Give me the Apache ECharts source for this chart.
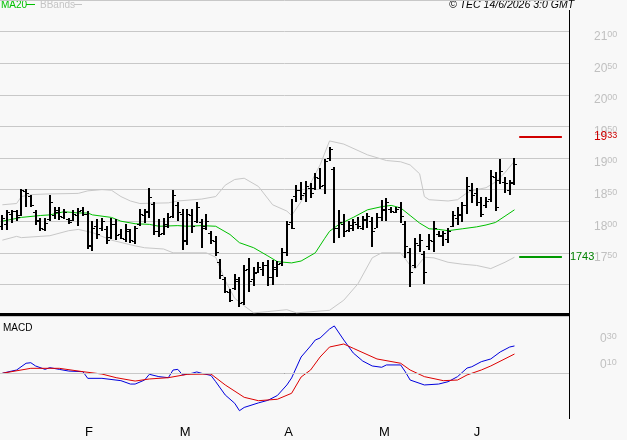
<!DOCTYPE html>
<html>
<head>
<meta charset="utf-8">
<script src="https://cdn.jsdelivr.net/npm/echarts@6/dist/echarts.min.js"></script>
<style>
html, body { margin: 0; padding: 0; background: #f8f8f8; }
#chart { width: 627px; height: 440px; }
</style>
</head>
<body>
<div id="chart"></div>
<script>
// trading days on screen, 2026
var janDays = [8, 9, 12, 13, 14, 15, 16, 19, 20, 21, 22, 23, 26, 27, 28, 29, 30];
var febDays = [2, 3, 4, 5, 6, 9, 10, 11, 12, 13, 16, 17, 18, 19, 20, 23, 24, 25, 26, 27];
var marDays = [2, 3, 4, 5, 6, 9, 10, 11, 12, 13, 16, 17, 18, 19, 20, 23, 24, 25, 26, 27, 30, 31];
var aprDays = [1, 2, 7, 8, 9, 10, 13, 14, 15, 16, 17, 20, 21, 22, 23, 24, 27, 28, 29, 30];
var mayDays = [4, 5, 6, 7, 8, 11, 12, 13, 14, 15, 18, 19, 20, 21, 22, 25, 26, 27, 28, 29];
var junDays = [1, 2, 3, 4, 5, 8, 9, 10, 11, 12];
var monthLetters = ['F', 'M', 'A', 'M', 'J'];
var emptySlots = 11; // free space right of last bar

var opens = [1792, 1796, 1812, 1816, 1810, 1848, 1840, 1815, 1800, 1788,
  1803, 1810, 1815, 1806, 1803, 1802, 1810, 1818, 1812, 1760,
  1793, 1790, 1788, 1775, 1795, 1780, 1772, 1785, 1768, 1796,
  1810, 1815, 1828, 1785, 1782, 1795, 1808, 1826, 1812, 1768,
  1810, 1800, 1798, 1792, 1782, 1768, 1735, 1708, 1688, 1695,
  1705, 1672, 1725, 1708, 1720, 1725, 1730, 1712, 1725, 1734,
  1752, 1798, 1840, 1850, 1845, 1852, 1852, 1868, 1858, 1900,
  1882, 1790, 1795, 1786, 1790, 1796, 1790, 1802, 1800, 1790,
  1806, 1818, 1820, 1815, 1822, 1795, 1752, 1730, 1762, 1748,
  1760, 1768, 1780, 1776, 1772, 1792, 1805, 1810, 1825, 1850,
  1845, 1830, 1825, 1835, 1870, 1865, 1862, 1850, 1862];
var highs = [1810, 1818, 1818, 1818, 1851, 1851, 1842, 1818, 1805, 1805,
  1842, 1822, 1823, 1819, 1805, 1818, 1821, 1823, 1816, 1800,
  1803, 1805, 1792, 1805, 1803, 1787, 1795, 1787, 1792, 1820,
  1819, 1853, 1831, 1803, 1805, 1813, 1849, 1830, 1819, 1819,
  1819, 1831, 1803, 1812, 1784, 1777, 1740, 1711, 1693, 1716,
  1711, 1731, 1742, 1727, 1735, 1736, 1739, 1739, 1737, 1758,
  1800, 1835, 1858, 1862, 1864, 1861, 1877, 1884, 1899, 1918,
  1886, 1818, 1811, 1800, 1803, 1806, 1809, 1813, 1806, 1813,
  1834, 1836, 1823, 1823, 1831, 1800, 1758, 1773, 1779, 1753,
  1779, 1800, 1784, 1784, 1790, 1816, 1823, 1831, 1870, 1860,
  1852, 1839, 1839, 1881, 1878, 1899, 1870, 1865, 1900];
var lows = [1787, 1787, 1797, 1800, 1808, 1823, 1823, 1795, 1785, 1784,
  1801, 1803, 1803, 1803, 1795, 1800, 1792, 1808, 1756, 1753,
  1771, 1784, 1764, 1771, 1769, 1771, 1766, 1765, 1764, 1793,
  1797, 1806, 1778, 1774, 1778, 1789, 1805, 1800, 1754, 1762,
  1781, 1797, 1757, 1786, 1764, 1745, 1709, 1686, 1672, 1691,
  1664, 1668, 1688, 1697, 1717, 1714, 1698, 1700, 1711, 1730,
  1745, 1787, 1831, 1834, 1831, 1837, 1850, 1850, 1844, 1896,
  1766, 1774, 1774, 1782, 1784, 1787, 1787, 1790, 1759, 1790,
  1800, 1800, 1813, 1813, 1797, 1741, 1696, 1725, 1751, 1701,
  1753, 1751, 1774, 1761, 1766, 1790, 1795, 1800, 1811, 1829,
  1823, 1808, 1821, 1831, 1816, 1860, 1844, 1842, 1857];
var closes = [1805, 1814, 1816, 1806, 1849, 1845, 1826, 1802, 1790, 1797,
  1830, 1818, 1808, 1815, 1798, 1812, 1816, 1812, 1762, 1790,
  1780, 1800, 1770, 1795, 1778, 1774, 1788, 1770, 1790, 1812,
  1816, 1838, 1785, 1780, 1793, 1806, 1842, 1815, 1770, 1812,
  1792, 1822, 1790, 1800, 1770, 1752, 1715, 1690, 1676, 1708,
  1670, 1722, 1705, 1718, 1728, 1730, 1712, 1728, 1732, 1752,
  1795, 1790, 1850, 1842, 1855, 1845, 1870, 1856, 1895, 1914,
  1790, 1798, 1785, 1794, 1798, 1792, 1804, 1808, 1784, 1806,
  1820, 1830, 1816, 1820, 1808, 1760, 1720, 1765, 1770, 1720,
  1770, 1790, 1778, 1782, 1785, 1810, 1812, 1825, 1855, 1842,
  1830, 1812, 1832, 1872, 1822, 1880, 1860, 1860, 1890];

// [bar index, value]
var ma20 = [[0, 1800], [4, 1806], [8, 1809], [10, 1810], [13, 1815], [16, 1813], [18, 1813],
  [19, 1810], [23, 1806], [25, 1800], [28, 1796], [31, 1795], [33, 1792], [37, 1793],
  [39, 1792], [42, 1793], [45, 1792], [48, 1779], [50, 1766], [53, 1758], [56, 1745],
  [58, 1736], [61, 1734], [63, 1737], [66, 1750], [68, 1773], [69, 1784], [71, 1795],
  [74, 1806], [77, 1818], [80, 1823], [82, 1825], [84, 1821], [86, 1809], [88, 1797],
  [90, 1788], [92, 1787], [94, 1785], [97, 1788], [100, 1791], [102, 1794], [104, 1798],
  [106, 1808], [108, 1818]];
var bbUpper = [[0, 1826], [3, 1828], [4, 1839], [6, 1842], [9, 1843], [16, 1844], [18, 1848],
  [21, 1850], [23, 1849], [25, 1839], [27, 1832], [29, 1828], [35, 1829], [37, 1832],
  [42, 1835], [45, 1839], [47, 1857], [49, 1866], [51, 1868], [54, 1855], [57, 1826],
  [60, 1816], [61, 1809], [63, 1831], [65, 1860], [67, 1889], [69, 1927], [72, 1922],
  [77, 1905], [81, 1896], [84, 1894], [86, 1889], [88, 1875], [89, 1839], [90, 1834],
  [94, 1832], [96, 1834], [98, 1845], [100, 1850], [102, 1853], [104, 1862], [106, 1877],
  [108, 1895]];
var bbLower = [[0, 1770], [3, 1776], [4, 1774], [10, 1777], [14, 1785], [16, 1787], [19, 1782],
  [23, 1770], [28, 1761], [30, 1758], [34, 1756], [36, 1750], [43, 1750], [45, 1743],
  [47, 1706], [49, 1678], [51, 1666], [53, 1655], [56, 1657], [60, 1660], [62, 1655],
  [69, 1659], [72, 1675], [75, 1701], [78, 1742], [80, 1750], [84, 1750], [85, 1740],
  [86, 1730], [87, 1724], [89, 1743], [91, 1742], [94, 1735], [97, 1732], [100, 1730],
  [103, 1725], [106, 1735], [108, 1743]];
var macdLine = [[0, -0.2], [2, 1.5], [3, 2.3], [5, 7.5], [6, 7.9], [7, 5.4], [9, 2.8], [10, 4.1],
  [12, 2.8], [14, 1.5], [17, 1.0], [18, -4.1], [21, -4.1], [25, -5.9], [27, -8.5], [28, -8.5],
  [30, -5.4], [31, -1.0], [33, -2.8], [35, -3.6], [36, 2.3], [37, 2.8], [38, -1.5], [40, -0.2],
  [41, 0.8], [42, -0.2], [44, -1.9], [45, -6.7], [47, -16.9], [49, -23.3], [50, -29],
  [51, -26.5], [54, -23], [56, -21], [58, -17.3], [60, -9.2], [61, -3.8], [63, 12.3],
  [65, 20.8], [66, 25.4], [67, 26.9], [69, 33.8], [70, 36.2], [72, 25.4], [74, 15.4],
  [76, 9.2], [78, 5.4], [80, 4.4], [81, 6.2], [84, 6.2], [85, 0.8], [86, -5.4], [89, -9.2],
  [92, -8.5], [94, -6.7], [96, -2.8], [98, 3.8], [99, 4.8], [101, 8.7], [103, 10.8],
  [105, 16.2], [107, 20], [108, 20.8]];
var signalLine = [[0, -0.2], [6, 3.6], [12, 3.6], [17, 1.0], [21, -0.8], [24, -3.6], [28, -6.2],
  [31, -4.6], [35, -3.6], [39, -1.0], [44, -0.8], [47, -9.2], [51, -18.7], [54, -21.3],
  [58, -20.2], [61, -15.6], [63, -3.1], [65, 2.3], [67, 12.3], [69, 20], [72, 22.3], [74, 19],
  [79, 10.8], [84, 7.5], [86, 2.3], [89, -2.8], [93, -5.9], [96, -5.4], [98, -1.5], [101, 2.3],
  [103, 5.4], [108, 14.6]];

var resistance = 1933;
var support = 1743;
var levelFrom = 109, levelTo = 118; // category span of the two level marks
var priceTicks = [1750, 1800, 1850, 1900, 1950, 2000, 2050, 2100];
var macdTicks = [10, 30];

// categories
var dates = [];
var monthStart = [];
[janDays, febDays, marDays, aprDays, mayDays, junDays].forEach(function (days, m) {
  if (m > 0) monthStart.push(dates.length);
  days.forEach(function (d) {
    dates.push('2026-' + ('0' + (m + 1)).slice(-2) + '-' + ('0' + d).slice(-2));
  });
});
for (var k = 0; k < emptySlots; k++) dates.push('pad' + k);

var ohlc = opens.map(function (o, i) { return [i, o, closes[i], lows[i], highs[i]]; });

function splitLabel(str, big, small) {
  return '{' + big + '|' + str.slice(0, str.length - 2) + '}{' + small + '|' + str.slice(-2) + '}';
}

var richGray = {
  a: { fontFamily: 'Liberation Sans', fontSize: 12, color: '#c0c0c0', lineHeight: 13 },
  b: { fontFamily: 'Liberation Sans', fontSize: 9, color: '#c0c0c0', verticalAlign: 'top', lineHeight: 13 }
};

function renderBar(params, api) {
  var i = api.value(0);
  var hi = api.coord([i, api.value(4)]);
  var lo = api.coord([i, api.value(3)]);
  var op = api.coord([i, api.value(1)]);
  var cl = api.coord([i, api.value(2)]);
  var x = Math.round(hi[0]);
  return {
    type: 'group',
    children: [
      { type: 'rect', shape: { x: x - 1, y: Math.round(hi[1]), width: 2, height: Math.max(2, Math.round(lo[1] - hi[1])) }, style: { fill: '#000' } },
      { type: 'rect', shape: { x: x - 3, y: Math.round(op[1]), width: 2, height: 1 }, style: { fill: '#000' } },
      { type: 'rect', shape: { x: x + 1, y: Math.round(cl[1]), width: 2, height: 1 }, style: { fill: '#000' } }
    ]
  };
}

var chart = echarts.init(document.getElementById('chart'));
var option = {
  backgroundColor: '#f8f8f8',
  animation: false,
  grid: [
    { left: 0, top: -4, width: 569, height: 320 },
    { left: 0, top: 321, width: 569, height: 104 }
  ],
  xAxis: [
    { type: 'category', gridIndex: 0, data: dates, boundaryGap: true, show: false },
    {
      type: 'category', gridIndex: 1, data: dates, boundaryGap: true, offset: -6,
      axisLine: { lineStyle: { color: '#000', width: 1 } },
      axisTick: {
        alignWithLabel: true, length: 17, lineStyle: { color: '#000' },
        interval: function (idx) { return monthStart.indexOf(idx) >= 0; }
      },
      axisLabel: {
        interval: function (idx) { return monthStart.indexOf(idx) >= 0; },
        formatter: function (v, idx) { return monthLetters[monthStart.indexOf(idx)]; },
        align: 'left', verticalAlign: 'top', margin: 7, padding: [0, 0, 0, 2],
        fontFamily: 'Liberation Sans', fontSize: 13, color: '#000'
      },
      splitLine: { show: false }
    }
  ],
  yAxis: [
    {
      type: 'value', gridIndex: 0, position: 'right', min: 1650, max: 2150, interval: 50,
      axisLine: { show: false }, axisTick: { show: false },
      splitLine: { lineStyle: { color: '#c8c8c8', width: 1 } },
      axisLabel: {
        margin: 25, align: 'left', padding: [10, 0, 0, 0],
        formatter: function (v) { return priceTicks.indexOf(v) >= 0 ? splitLabel(String(v), 'a', 'b') : ''; },
        rich: richGray
      }
    },
    {
      type: 'value', gridIndex: 1, position: 'right', min: -40, max: 40, interval: 10,
      axisLine: { show: false }, axisTick: { show: false }, splitLine: { show: false },
      axisLabel: {
        margin: 31, align: 'left', padding: [10, 0, 0, 0],
        formatter: function (v) { return macdTicks.indexOf(v) >= 0 ? '{a|0}{b|' + v + '}' : ''; },
        rich: richGray
      }
    }
  ],
  graphic: [
    { type: 'text', left: 1, top: 0, style: { text: 'MA20', fill: '#00c000', font: '10px "Liberation Sans"' } },
    { type: 'line', shape: { x1: 26, y1: 4.5, x2: 35, y2: 4.5 }, style: { stroke: '#00c000', lineWidth: 1 } },
    { type: 'text', left: 40, top: 0, style: { text: 'BBands', fill: '#c4c4c4', font: '10px "Liberation Sans"' } },
    { type: 'line', shape: { x1: 74, y1: 4.5, x2: 82, y2: 4.5 }, style: { stroke: '#c4c4c4', lineWidth: 1 } },
    { type: 'text', left: 449, top: 0, style: { text: '\u00a9 TEC 14/6/2026 3:0 GMT', fill: '#000', font: 'italic 10.5px "Liberation Sans"' } },
    { type: 'text', left: 3, top: 323, style: { text: 'MACD', fill: '#000', font: '10px "Liberation Sans"' } },
    { type: 'rect', shape: { x: 569, y: 10, width: 1, height: 409 }, style: { fill: '#000' } },
    { type: 'rect', shape: { x: 0, y: 313, width: 570, height: 3 }, style: { fill: '#000' } }
  ],
  series: [
    {
      name: 'BBands', type: 'line', xAxisIndex: 0, yAxisIndex: 0, data: bbUpper,
      showSymbol: false, lineStyle: { color: '#c8c8c8', width: 1 }, silent: true
    },
    {
      name: 'BBandsLow', type: 'line', xAxisIndex: 0, yAxisIndex: 0, data: bbLower,
      showSymbol: false, lineStyle: { color: '#c8c8c8', width: 1 }, silent: true
    },
    {
      name: 'MA20', type: 'line', xAxisIndex: 0, yAxisIndex: 0, data: ma20,
      showSymbol: false, lineStyle: { color: '#00c000', width: 1 }, silent: true,
      markLine: {
        symbol: 'none', silent: true,
        data: [
          [{ coord: [levelFrom, resistance], lineStyle: { color: '#d00000', width: 2, type: 'solid' },
             label: { show: true, position: 'end', distance: 32, formatter: splitLabel(String(resistance), 'r', 's'),
               rich: {
                 r: { fontFamily: 'Liberation Sans', fontSize: 12, color: '#cc0000', lineHeight: 13 },
                 s: { fontFamily: 'Liberation Sans', fontSize: 9, color: '#cc0000', verticalAlign: 'top', lineHeight: 13 }
               } } },
           { coord: [levelTo, resistance] }],
          [{ coord: [levelFrom, support], lineStyle: { color: '#009900', width: 2, type: 'solid' },
             label: { show: true, position: 'end', distance: 8, formatter: String(support),
               fontFamily: 'Liberation Sans', fontSize: 11, color: '#008000' } },
           { coord: [levelTo, support] }]
        ]
      }
    },
    {
      name: 'Price', type: 'custom', xAxisIndex: 0, yAxisIndex: 0, data: ohlc,
      renderItem: renderBar, encode: { x: 0, y: [1, 2, 3, 4] }, z: 5, silent: true
    },
    {
      name: 'MACD', type: 'line', xAxisIndex: 1, yAxisIndex: 1, data: macdLine,
      showSymbol: false, lineStyle: { color: '#0000dd', width: 1 }, silent: true, z: 3,
      markLine: {
        symbol: 'none', silent: true, label: { show: false },
        lineStyle: { color: '#c8c8c8', width: 1, type: 'solid' },
        data: [{ yAxis: 0 }]
      }
    },
    {
      name: 'Signal', type: 'line', xAxisIndex: 1, yAxisIndex: 1, data: signalLine,
      showSymbol: false, lineStyle: { color: '#dd0000', width: 1 }, silent: true, z: 3
    }
  ]
};
chart.setOption(option);
</script>
</body>
</html>
